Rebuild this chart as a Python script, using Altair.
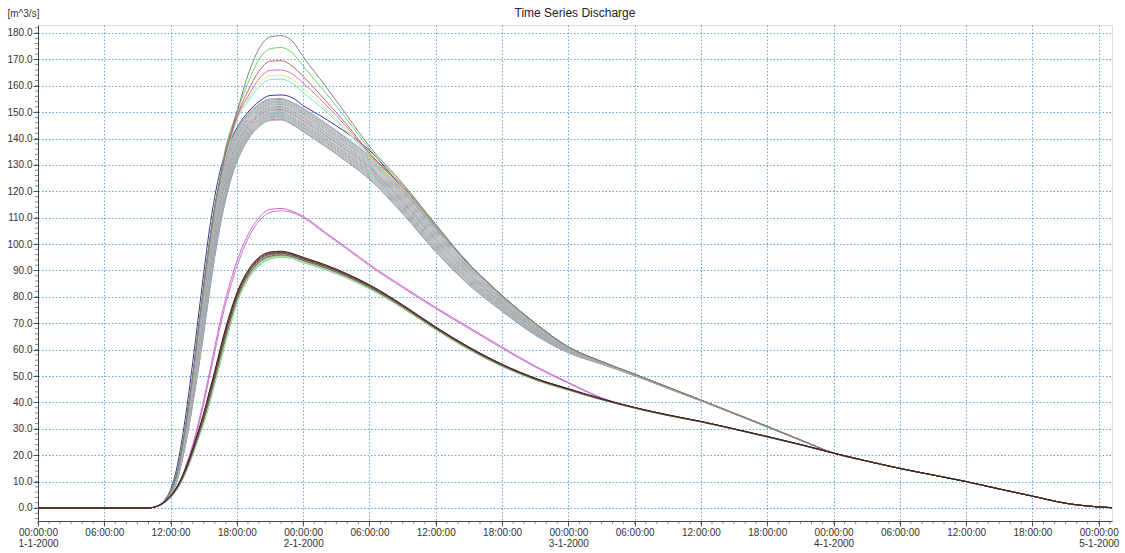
import altair as alt
import pandas as pd

# ---------------- data ----------------
T_HOURS = [0, 10, 10.5, 11, 11.5, 12, 12.5, 13, 13.5, 14, 14.5, 15, 15.5, 16, 16.5, 17, 17.5,
           18, 19, 20, 21, 22, 23, 24, 26, 28, 30, 33, 36, 39, 42, 45, 48, 51, 54, 57, 60,
           63, 66, 69, 72, 75, 78, 81, 84, 87, 90, 93, 96, 97.2]

COMMON_TAIL = [20.8, 17.8, 15.0, 12.5, 10.0, 7.2, 4.5, 1.8, 0.4, 0.1]

UP_LOW = [0, 0, 0.3, 1.0, 2.3, 4.5, 9, 17, 27, 39, 52, 66, 81, 95, 107, 117, 125,
          131, 139.5, 144.5, 146.8, 147, 145.3, 142.5, 137, 131, 124.5, 111.5, 97, 84.5, 74.5, 65.5, 58.8,
          54.5, 50.1, 45.3, 40.6, 35.7, 30.7, 25.7] + COMMON_TAIL
UP_HIGH = [0, 0, 0.3, 1.1, 2.8, 6, 12, 22, 35, 50, 67, 84, 100, 114, 125, 133, 139,
           143.5, 149.5, 153, 155, 155.2, 153.8, 151.5, 146, 140, 133.5, 120.5, 106, 92.5, 80.5, 70, 61,
           55.5, 50.7, 45.8, 40.9, 35.9, 30.9, 25.8] + COMMON_TAIL

# distinct high members: values from 17h to 36h (index 15..28)
GRAY_MID = [136, 143, 150, 164, 174, 178.5, 179, 177, 171, 160, 148.5, 137, 123, 107.5]
GREEN_MID = [137, 144, 150, 161, 170, 174, 174.5, 172.5, 167.5, 157.5, 147, 136, 122.5, 107.2]
RED_MID = [135, 142, 148.5, 158, 165.5, 169.3, 169.5, 167.5, 163.5, 154.5, 145, 134.5, 122, 107]
MAGENTA_MID = [134.5, 141.5, 148, 156, 162.5, 165.8, 166, 164.5, 161, 153, 144, 134, 121.5, 106.8]
YELLOW_MID = [134, 141, 147.5, 155, 160.8, 163.8, 164, 162.5, 159, 151.5, 143, 133.5, 121, 106.6]
CYAN_MID = [134, 140.5, 147, 154, 159.5, 162.3, 162.5, 161, 157.5, 150.5, 142.5, 133, 121, 106.5]
NAVY = [0, 0, 0.3, 1.2, 3.2, 7, 14, 25, 39, 55, 72, 89, 105, 118, 128, 135, 140,
        144, 150, 154, 156.3, 156.5, 155.5, 152.5, 147.5, 142, 135.5, 121, 106.3] + UP_HIGH[29:]

B1 = [0, 0, 0.3, 1.0, 2.2, 4.0, 7.0, 11.5, 17.5, 24, 32, 41, 51, 61, 71, 79.5, 87,
      93.5, 103.5, 110, 113.2, 113.5, 112.5, 110.5, 104.5, 98.5, 92.3, 84, 76, 68.5, 61, 53.8, 47.6,
      41.8, 38.0, 35.1, 32.7, 29.9, 26.9, 23.9] + COMMON_TAIL
B2 = [0, 0, 0.3, 1.0, 2.1, 3.8, 6.6, 11, 16.8, 23, 30.8, 39.5, 49.3, 59, 69, 77.5, 85,
      91.5, 102, 108.7, 112, 112.6, 112, 110, 104, 98, 91.8, 83.5, 75.5, 68, 60.5, 53.4, 47.3,
      41.6, 37.9, 35.1, 32.7, 29.9, 26.9, 23.9] + COMMON_TAIL

C_LOW = [0, 0, 0.3, 1.0, 2.2, 4.0, 6.5, 10, 14.5, 20, 26, 32, 39, 47, 55, 63, 70.5,
         77.5, 86.5, 91.8, 94.3, 95, 94.5, 93, 90.3, 87, 83, 75.7, 67.5, 60, 53.6, 48.5, 44.6,
         41, 37.8, 35, 32.6, 29.8, 26.9, 23.9] + COMMON_TAIL
C_HIGH = [0, 0, 0.3, 1.1, 2.5, 4.6, 7.5, 11.5, 16.5, 22.5, 29, 36, 44, 52, 60.5, 68.5, 75.5,
          81.5, 90, 95, 97, 97.3, 96.5, 95, 92.2, 88.7, 84.6, 77, 68.6, 61, 54.5, 49.2, 45.2,
          41.4, 38.1, 35.3, 32.8, 30, 27.1, 24.1] + COMMON_TAIL

# position of each bundle member between the bundle's lower and upper edge
UP_FRACTIONS = [0.0, 0.04, 0.09, 0.13, 0.18, 0.22, 0.27, 0.31, 0.36, 0.40, 0.45, 0.49,
                0.54, 0.58, 0.63, 0.67, 0.72, 0.76, 0.81, 0.86, 0.90, 0.95, 1.0]
C_FRACTIONS = [0.0, 0.1, 0.2, 0.3, 0.42, 0.55, 0.68, 0.8, 0.9, 1.0]

UP_COLORS = ["#a8a8a8", "#6aa8a8", "#d49ab0", "#b4b4b4", "#8c8cc8", "#9bd09b", "#a0a0a0",
             "#c0a0c0", "#70b8c0", "#bdbdbd", "#e0a0a0", "#909090", "#a6c8a6", "#b0a0d0",
             "#9a9a9a", "#c8c8c8", "#80b0b0", "#d0a0c8", "#a0a0a0", "#8fc88f", "#b8b8b8",
             "#9090c0", "#a4a4a4"]
TOP_COLORS = {"gray": "#7a7a7a", "green": "#66cc66", "red": "#c05a5a", "magenta": "#cc66cc",
              "yellow": "#e8e86a", "cyan": "#6ae0e0", "navy": "#2a2a90"}
B_COLORS = ["#d060c0", "#c070d0"]
C_COLORS = ["#70d070", "#70dada", "#e0e070", "#a0a0a0", "#505050", "#70a070", "#803030",
            "#404040", "#a04040", "#302020"]

Y_TICKS = [0, 10, 20, 30, 40, 50, 60, 70, 80, 90, 100, 110, 120, 130, 140, 150, 160, 170, 180]
X_TICK_HOURS = list(range(0, 97, 6))
X_MINOR_HOURS = list(range(0, 98, 1))
Y_MINOR = list(range(-4, 183, 2))

# ---------------- build table ----------------
start = pd.Timestamp("2000-01-01 00:00:00")
rows = []
names = []
colors = []


def add(name, vals, color):
    names.append(name)
    colors.append(color)
    for h, v in zip(T_HOURS, vals):
        rows.append({"time": start + pd.Timedelta(hours=h), "q": v, "member": name})


add("T_navy", NAVY, TOP_COLORS["navy"])
for i, f in enumerate(UP_FRACTIONS):
    add(f"U{i}", [lo + f * (hi - lo) for lo, hi in zip(UP_LOW, UP_HIGH)], UP_COLORS[i % len(UP_COLORS)])

for key, mid in [("cyan", CYAN_MID), ("yellow", YELLOW_MID), ("magenta", MAGENTA_MID),
                 ("red", RED_MID), ("green", GREEN_MID), ("gray", GRAY_MID)]:
    add("T_" + key, UP_HIGH[:15] + mid + UP_HIGH[29:], TOP_COLORS[key])

add("B1", B1, B_COLORS[0])
add("B2", B2, B_COLORS[1])

for i, f in enumerate(C_FRACTIONS):
    add(f"C{i}", [lo + f * (hi - lo) for lo, hi in zip(C_LOW, C_HIGH)], C_COLORS[i])

df = pd.DataFrame(rows)
df["order"] = df["member"].map({n: k for k, n in enumerate(names)})

minor_x = pd.DataFrame({"time": [start + pd.Timedelta(hours=h) for h in X_MINOR_HOURS]})
minor_y = pd.DataFrame({"q": Y_MINOR})

W, H = 1074, 496
FONT = "Liberation Sans"
GRID = "#5a9fd0"

x_scale = alt.Scale(domain=[alt.DateTime(year=2000, month=1, date=1, hours=0),
                            alt.DateTime(year=2000, month=1, date=5, hours=1, minutes=12)])
y_scale = alt.Scale(domain=[-4.93, 183.03], nice=False, zero=False)

x_axis = alt.Axis(
    title=None,
    values=[alt.DateTime(year=2000, month=1, date=1 + h // 24, hours=h % 24) for h in X_TICK_HOURS],
    labelExpr="hours(datum.value) == 0 ? [timeFormat(datum.value, '%H:%M:%S'), timeFormat(datum.value, '%-d-%-m-%Y')] : timeFormat(datum.value, '%H:%M:%S')",
    grid=True, gridColor=GRID, gridDash=[1.5, 2], gridOpacity=0.9,
    tickSize=5, tickColor="#555", domainColor="#444",
    labelFont=FONT, labelFontSize=10, labelColor="#333", labelPadding=1, labelLineHeight=11,
    labelFlush=False, labelOverlap=False,
)
y_axis = alt.Axis(
    title="[m^3/s]", titleAngle=0, titleAlign="left", titleBaseline="middle",
    titleX=-31, titleY=-12, titleFont=FONT, titleFontSize=10, titleFontWeight="normal",
    titleColor="#333",
    values=Y_TICKS, format=".1f",
    grid=True, gridColor=GRID, gridDash=[1.5, 2], gridOpacity=0.9,
    tickSize=5, tickColor="#555", domainColor="#444",
    labelFont=FONT, labelFontSize=10, labelColor="#333", labelPadding=1,
)

lines = alt.Chart(df).mark_line(strokeWidth=1, interpolate="monotone", opacity=0.95).encode(
    x=alt.X("time:T", scale=x_scale, axis=x_axis),
    y=alt.Y("q:Q", scale=y_scale, axis=y_axis),
    color=alt.Color("member:N", scale=alt.Scale(domain=names, range=colors), legend=None),
    order=alt.Order("order:Q"),
    detail="member:N",
)

xminor = alt.Chart(minor_x).mark_tick(size=3, thickness=1, color="#555", orient="vertical").encode(
    x=alt.X("time:T", scale=x_scale, axis=x_axis),
    y=alt.value(H + 1.5),
)
yminor = alt.Chart(minor_y).mark_tick(size=3, thickness=1, color="#555", orient="horizontal").encode(
    y=alt.Y("q:Q", scale=y_scale, axis=y_axis),
    x=alt.value(-1.5),
)

chart = alt.layer(lines, xminor, yminor).properties(
    width=W, height=H,
    title=alt.TitleParams("Time Series Discharge", font=FONT, fontSize=12, fontWeight="normal",
                          anchor="middle", color="#222", offset=-12),
    autosize=alt.AutoSizeParams(type="none"),
    padding={"left": 38, "top": 25, "right": 13, "bottom": 32},
).configure_view(stroke="#777", strokeWidth=1).configure(background="white")

chart.save("out.html", embed_options={"renderer": "svg", "actions": False})
